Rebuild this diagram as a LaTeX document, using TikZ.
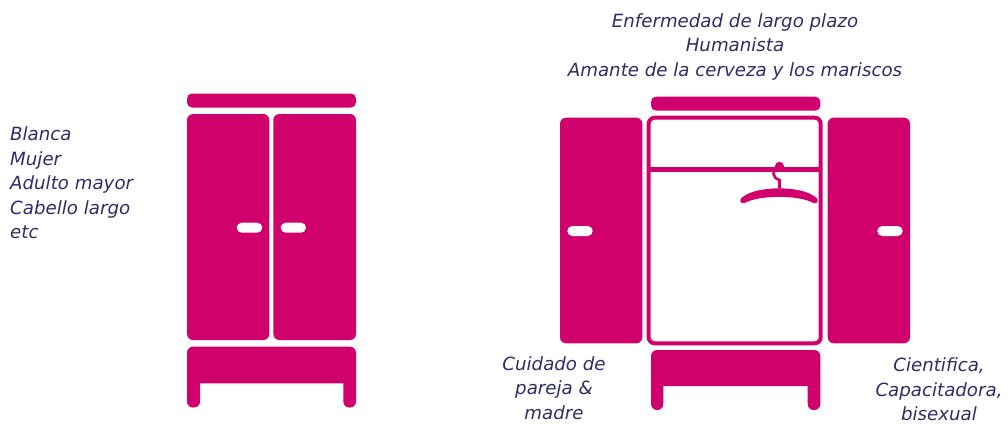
\documentclass[tikz,border=0pt]{standalone}
\usepackage{fontspec}
\setmainfont{DejaVu Sans}
\definecolor{mag}{HTML}{D0006C}
\definecolor{ink}{HTML}{2F2C6B}
\begin{document}
\begin{tikzpicture}[x=1pt,y=-1pt,
  wood/.style={fill=mag,draw=none},
  door/.style={wood,rounded corners=6pt},
  bar/.style={wood,rounded corners=5pt},
  knob/.style={fill=white,rounded corners=5pt},
  leg/.style={wood,rounded corners=6pt},
  label/.style={font=\itshape\fontsize{18.2}{24.5}\selectfont,text=ink,inner sep=0pt}]
\useasboundingbox (0,0) rectangle (1008,423);

% ---- closed wardrobe (left)
\fill[bar] (187,93.5) rectangle (356,107.5);
\fill[door] (187,114) rectangle (269.3,340);
\fill[door] (273.3,114) rectangle (356,340);
\fill[knob] (236.7,222.7) rectangle (262.3,232.7);
\fill[knob] (280.7,222.7) rectangle (306,232.7);
\fill[door] (187,346.7) rectangle (356,383.3);
\fill[leg] (187,370) rectangle (200,407.5);
\fill[leg] (343.3,370) rectangle (356,407.5);

% ---- open wardrobe (right)
\fill[bar] (651,96.7) rectangle (820.3,110.7);
\draw[mag,line width=4pt,rounded corners=6pt] (648.7,117.7) rectangle (820.7,343.3);
\draw[mag,line width=5pt] (648.7,169) -- (820.7,169);
\fill[door] (560,117.7) rectangle (642.3,343.3);
\fill[door] (827.7,117.7) rectangle (910,343.3);
\fill[knob] (567.3,226) rectangle (592.7,236);
\fill[knob] (877.3,226) rectangle (902.7,236);
\fill[door] (651,350) rectangle (820.3,386);
\fill[leg] (651,375) rectangle (663.3,410);
\fill[leg] (807.7,375) rectangle (820.3,410);

% hanger
\fill[mag] (779.5,166.3) circle (4.5);
\draw[mag,line width=2.6pt,line cap=round] (779.5,167) .. controls (771,170) and (772,178) .. (779.5,180) -- (779.5,188);
\fill[mag,draw=mag,line width=1.5pt,line join=round] (744,197) .. controls (758,186.5) and (800,186.5) .. (814,197)
  .. controls (818,199) and (818,203) .. (814,202.5)
  .. controls (800,194) and (758,194) .. (744,202.5)
  .. controls (740,203) and (740,199) .. (744,197) -- cycle;

% ---- texts
\node[label,align=left,anchor=north west] (lefttext) at (10,126.5)
  {Blanca\\Mujer\\Adulto mayor\\Cabello largo\\etc};
\node[label,align=center,anchor=north] (toptext) at (735,13.3)
  {Enfermedad de largo plazo\\Humanista\\Amante de la cerveza y los mariscos};
\node[label,align=center,anchor=north] (bltext) at (554,356.3)
  {Cuidado de\\pareja \&\\madre};
\node[label,align=center,anchor=north] (brtext) at (939,357.8)
  {Cientifica,\\Capacitadora,\\bisexual};
\end{tikzpicture}
\end{document}
